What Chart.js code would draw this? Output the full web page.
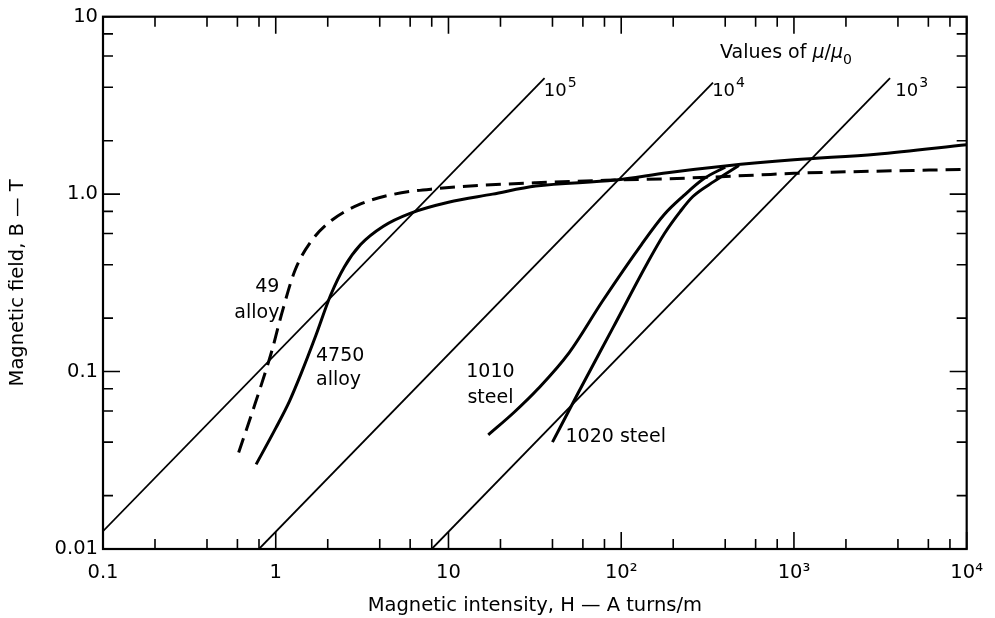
<!DOCTYPE html>
<html>
<head>
<meta charset="utf-8">
<script src="https://cdn.jsdelivr.net/npm/chart.js@4.4.0/dist/chart.umd.min.js"></script>
<style>
  html, body { margin: 0; padding: 0; background: #fff; }
</style>
</head>
<body>
<canvas id="bh" width="995" height="618"></canvas>
<script>
// Magnetization curves (B vs H) on log-log axes
const FONT = '"DejaVu Sans", "Liberation Sans", Arial, sans-serif';

const xTickValues = [0.1, 1, 10, 100, 1000, 10000];
const xTickLabels = ['0.1', '1', '10', '10²', '10³', '10⁴'];
const yTickValues = [0.01, 0.1, 1, 10];
const yTickLabels = ['0.01', '0.1', '1.0', '10'];
const minorSteps = [2, 4, 6, 8];

// constant permeability lines (mu/mu0 = 1e5, 1e4, 1e3)
const mu1e5H = [0.1, 36];
const mu1e5B = [0.0126, 4.5];
const mu1e4H = [0.8, 340];
const mu1e4B = [0.01, 4.25];
const mu1e3H = [8, 3600];
const mu1e3B = [0.01, 4.5];

// 49 alloy (dashed)
const alloy49H = [0.61, 0.76, 0.95, 1.08, 1.29, 1.61, 2.1, 3.1, 4.85, 8.2, 32, 92, 185, 600, 1000, 10000];
const alloy49B = [0.035, 0.066, 0.131, 0.21, 0.37, 0.545, 0.71, 0.88, 1.0, 1.07, 1.16, 1.2, 1.22, 1.28, 1.31, 1.38];

// 4750 alloy
const alloy4750H = [0.77, 1.0, 1.2, 1.4, 1.7, 2.08, 2.5, 3.1, 4.2, 6.0, 10, 18, 32, 92, 185, 400, 1000, 3000, 10000];
const alloy4750B = [0.030, 0.048, 0.068, 0.097, 0.158, 0.27, 0.39, 0.52, 0.66, 0.78, 0.9, 1.0, 1.11, 1.2, 1.32, 1.44, 1.56, 1.68, 1.9];

// 1010 steel
const steel1010H = [17, 24, 33, 50, 78, 131, 178, 230, 300, 400];
const steel1010B = [0.044, 0.059, 0.08, 0.128, 0.25, 0.52, 0.77, 0.98, 1.22, 1.42];

// 1020 steel
const steel1020H = [40, 56, 90, 140, 178, 220, 260, 345, 480];
const steel1020B = [0.040, 0.075, 0.178, 0.4, 0.6, 0.8, 0.97, 1.18, 1.45];

// text placed on the plot, in data units
const curveLabels = [
    { text: '49', h: 1.05, b: 0.30, align: 'right' },
    { text: 'alloy', h: 1.05, b: 0.215, align: 'right' },
    { text: '4750', h: 1.71, b: 0.123, align: 'left' },
    { text: 'alloy', h: 1.71, b: 0.089, align: 'left' },
    { text: '1010', h: 17.5, b: 0.099, align: 'center' },
    { text: 'steel', h: 17.5, b: 0.0705, align: 'center' },
    { text: '1020 steel', h: 47.6, b: 0.0426, align: 'left' }
];
const muLabels = [
    { exp: '5', h: 35.6, b: 3.8 },
    { exp: '4', h: 336, b: 3.8 },
    { exp: '3', h: 3865, b: 3.8 }
];
const muTitle = { h: 373, b: 6.2 };

function toPoints(hs, bs) {
    return hs.map((h, i) => ({ x: h, y: bs[i] }));
}

function refLine(hs, bs) {
    return {
        data: toPoints(hs, bs),
        borderColor: '#000',
        borderWidth: 1.8,
        pointRadius: 0,
        tension: 0
    };
}

function curve(hs, bs, dashed) {
    return {
        data: toPoints(hs, bs),
        borderColor: '#000',
        borderWidth: 3,
        borderDash: dashed ? [15, 8] : [],
        pointRadius: 0,
        cubicInterpolationMode: 'monotone'
    };
}

// frame, inward ticks and the text annotations
const framePlugin = {
    id: 'frame',
    afterDatasetsDraw(chart) {
        const { ctx, chartArea: a, scales: { x, y } } = chart;
        ctx.save();
        ctx.strokeStyle = '#000';
        ctx.lineWidth = 2.2;
        ctx.strokeRect(a.left, a.top, a.right - a.left, a.bottom - a.top);

        const majorLen = 17, minorLen = 10;
        ctx.lineWidth = 1.6;
        ctx.beginPath();
        const xMarks = [];
        xTickValues.forEach((d, i) => {
            if (i > 0) xMarks.push({ v: d, len: majorLen });
            if (i < xTickValues.length - 1) minorSteps.forEach(m => xMarks.push({ v: d * m, len: minorLen }));
        });
        xMarks.forEach(t => {
            const px = x.getPixelForValue(t.v);
            ctx.moveTo(px, a.bottom); ctx.lineTo(px, a.bottom - t.len);
            ctx.moveTo(px, a.top); ctx.lineTo(px, a.top + t.len);
        });
        const yMarks = [];
        yTickValues.forEach((d, i) => {
            if (i > 0) yMarks.push({ v: d, len: majorLen });
            if (i < yTickValues.length - 1) minorSteps.forEach(m => yMarks.push({ v: d * m, len: minorLen }));
        });
        yMarks.forEach(t => {
            const py = y.getPixelForValue(t.v);
            ctx.moveTo(a.left, py); ctx.lineTo(a.left + t.len, py);
            ctx.moveTo(a.right, py); ctx.lineTo(a.right - t.len, py);
        });
        ctx.stroke();

        ctx.fillStyle = '#000';
        ctx.textBaseline = 'middle';
        ctx.font = '19px ' + FONT;
        curveLabels.forEach(l => {
            ctx.textAlign = l.align;
            ctx.fillText(l.text, x.getPixelForValue(l.h), y.getPixelForValue(l.b));
        });

        ctx.textAlign = 'left';
        muLabels.forEach(l => {
            const px = x.getPixelForValue(l.h), py = y.getPixelForValue(l.b);
            ctx.font = '18px ' + FONT;
            ctx.fillText('10', px, py);
            const w = ctx.measureText('10').width;
            ctx.font = '14px ' + FONT;
            ctx.fillText(l.exp, px + w + 1, py - 8);
        });

        // "Values of mu/mu0"
        let px = x.getPixelForValue(muTitle.h);
        const py = y.getPixelForValue(muTitle.b);
        const parts = [
            { t: 'Values of ', f: '19px ' + FONT, dy: 0 },
            { t: 'μ', f: 'italic 19px ' + FONT, dy: 0 },
            { t: '/', f: '19px ' + FONT, dy: 0 },
            { t: 'μ', f: 'italic 19px ' + FONT, dy: 0 },
            { t: '0', f: '14px ' + FONT, dy: 7 }
        ];
        parts.forEach(p => {
            ctx.font = p.f;
            ctx.fillText(p.t, px, py + p.dy);
            px += ctx.measureText(p.t).width;
        });
        ctx.restore();
    }
};

new Chart(document.getElementById('bh').getContext('2d'), {
    type: 'line',
    data: {
        datasets: [
            refLine(mu1e5H, mu1e5B),
            refLine(mu1e4H, mu1e4B),
            refLine(mu1e3H, mu1e3B),
            curve(alloy49H, alloy49B, true),
            curve(alloy4750H, alloy4750B, false),
            curve(steel1010H, steel1010B, false),
            curve(steel1020H, steel1020B, false)
        ]
    },
    options: {
        responsive: false,
        animation: false,
        events: [],
        layout: { padding: { top: 15, right: 20, left: 0, bottom: 0 } },
        plugins: {
            legend: { display: false },
            tooltip: { enabled: false }
        },
        scales: {
            x: {
                type: 'logarithmic',
                min: 0.1,
                max: 10000,
                afterBuildTicks: axis => { axis.ticks = xTickValues.map(v => ({ value: v })); },
                afterFit: axis => { axis.height = 69; },
                grid: { display: false, drawTicks: false },
                border: { display: false },
                ticks: {
                    autoSkip: false,
                    maxRotation: 0,
                    padding: 12,
                    color: '#000',
                    font: { family: FONT, size: 19.5 },
                    callback: (v, i) => xTickLabels[i]
                },
                title: {
                    display: true,
                    text: 'Magnetic intensity, H — A turns/m',
                    color: '#000',
                    font: { family: FONT, size: 19.5 },
                    padding: { top: 0, bottom: 0 }
                }
            },
            y: {
                type: 'logarithmic',
                min: 0.01,
                max: 10,
                afterBuildTicks: axis => { axis.ticks = yTickValues.map(v => ({ value: v })); },
                afterFit: axis => { axis.width = 103; },
                grid: { display: false, drawTicks: false },
                border: { display: false },
                ticks: {
                    autoSkip: false,
                    padding: 5,
                    color: '#000',
                    font: { family: FONT, size: 19.5 },
                    callback: (v, i) => yTickLabels[i]
                },
                title: {
                    display: true,
                    text: 'Magnetic field, B — T',
                    color: '#000',
                    font: { family: FONT, size: 19.5 },
                    padding: { top: 6, bottom: 0 }
                }
            }
        }
    },
    plugins: [framePlugin]
});
</script>
</body>
</html>
